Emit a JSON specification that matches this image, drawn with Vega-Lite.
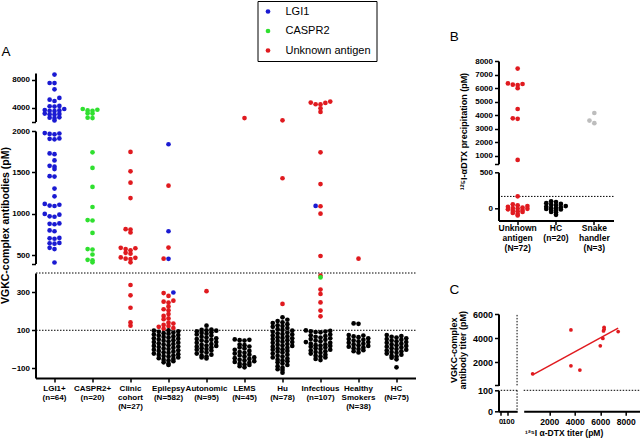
{
"$schema": "https://vega.github.io/schema/vega-lite/v6.json",
"padding": {"left": 0.5, "top": 0, "right": 0, "bottom": 0},
"background": "white",
"config": {
  "view": {"stroke": null},
  "font": "Liberation Sans",
  "axis": {"domainColor": "black", "domainWidth": 2, "tickColor": "black", "tickWidth": 1.5, "tickSize": 4, "labelColor": "black", "labelFont": "Liberation Sans", "labelFontWeight": "bold", "labelFontSize": 8, "labelPadding": 2, "titleFont": "Liberation Sans", "titleFontWeight": "bold", "titleColor": "black", "grid": false, "labelOverlap": false, "labelFlush": false},
  "legend": {"strokeColor": "black", "fillColor": "white", "padding": 5, "labelFontSize": 11, "labelFont": "Liberation Sans", "labelColor": "black", "symbolSize": 22, "symbolType": "circle", "rowPadding": 7.5, "labelOffset": 12},
  "title": {"font": "Liberation Sans", "fontSize": 13.5, "fontWeight": "normal", "anchor": "start", "color": "black", "offset": 14}
},
"datasets": {
  "a": [
    {"g":"LGI1+","c":"LGI1","v":8770},{"g":"LGI1+","c":"LGI1","v":7560},{"g":"LGI1+","c":"LGI1","v":7540},{"g":"LGI1+","c":"LGI1","v":6650},{"g":"LGI1+","c":"LGI1","v":5400},{"g":"LGI1+","c":"LGI1","v":5150},{"g":"LGI1+","c":"LGI1","v":4960},{"g":"LGI1+","c":"LGI1","v":4250},{"g":"LGI1+","c":"LGI1","v":4200},{"g":"LGI1+","c":"LGI1","v":4150},{"g":"LGI1+","c":"LGI1","v":3800},{"g":"LGI1+","c":"LGI1","v":3650},{"g":"LGI1+","c":"LGI1","v":3600},{"g":"LGI1+","c":"LGI1","v":3550},{"g":"LGI1+","c":"LGI1","v":3500},{"g":"LGI1+","c":"LGI1","v":3150},{"g":"LGI1+","c":"LGI1","v":3100},{"g":"LGI1+","c":"LGI1","v":3050},{"g":"LGI1+","c":"LGI1","v":3000},{"g":"LGI1+","c":"LGI1","v":2600},{"g":"LGI1+","c":"LGI1","v":2550},{"g":"LGI1+","c":"LGI1","v":2500},{"g":"LGI1+","c":"LGI1","v":2150},
    {"g":"LGI1+","c":"LGI1","v":1975},{"g":"LGI1+","c":"LGI1","v":1970},{"g":"LGI1+","c":"LGI1","v":1965},{"g":"LGI1+","c":"LGI1","v":1960},{"g":"LGI1+","c":"LGI1","v":1910},{"g":"LGI1+","c":"LGI1","v":1905},{"g":"LGI1+","c":"LGI1","v":1900},{"g":"LGI1+","c":"LGI1","v":1730},{"g":"LGI1+","c":"LGI1","v":1720},{"g":"LGI1+","c":"LGI1","v":1645},{"g":"LGI1+","c":"LGI1","v":1580},{"g":"LGI1+","c":"LGI1","v":1570},{"g":"LGI1+","c":"LGI1","v":1540},{"g":"LGI1+","c":"LGI1","v":1455},{"g":"LGI1+","c":"LGI1","v":1450},{"g":"LGI1+","c":"LGI1","v":1305},{"g":"LGI1+","c":"LGI1","v":1212},{"g":"LGI1+","c":"LGI1","v":1120},{"g":"LGI1+","c":"LGI1","v":1110},{"g":"LGI1+","c":"LGI1","v":1100},{"g":"LGI1+","c":"LGI1","v":1095},{"g":"LGI1+","c":"LGI1","v":1000},{"g":"LGI1+","c":"LGI1","v":990},{"g":"LGI1+","c":"LGI1","v":970},{"g":"LGI1+","c":"LGI1","v":965},{"g":"LGI1+","c":"LGI1","v":885},{"g":"LGI1+","c":"LGI1","v":880},{"g":"LGI1+","c":"LGI1","v":875},{"g":"LGI1+","c":"LGI1","v":800},{"g":"LGI1+","c":"LGI1","v":790},{"g":"LGI1+","c":"LGI1","v":710},{"g":"LGI1+","c":"LGI1","v":705},{"g":"LGI1+","c":"LGI1","v":700},{"g":"LGI1+","c":"LGI1","v":650},{"g":"LGI1+","c":"LGI1","v":645},{"g":"LGI1+","c":"LGI1","v":640},{"g":"LGI1+","c":"LGI1","v":590},{"g":"LGI1+","c":"LGI1","v":575},{"g":"LGI1+","c":"LGI1","v":413},
    {"g":"CASPR2+","c":"CASPR2","v":3800},{"g":"CASPR2+","c":"CASPR2","v":3700},{"g":"CASPR2+","c":"CASPR2","v":3600},{"g":"CASPR2+","c":"CASPR2","v":3550},{"g":"CASPR2+","c":"CASPR2","v":3200},{"g":"CASPR2+","c":"CASPR2","v":3150},{"g":"CASPR2+","c":"CASPR2","v":2550},{"g":"CASPR2+","c":"CASPR2","v":2500},{"g":"CASPR2+","c":"CASPR2","v":1743},{"g":"CASPR2+","c":"CASPR2","v":1555},{"g":"CASPR2+","c":"CASPR2","v":1325},{"g":"CASPR2+","c":"CASPR2","v":1083},{"g":"CASPR2+","c":"CASPR2","v":925},{"g":"CASPR2+","c":"CASPR2","v":920},{"g":"CASPR2+","c":"CASPR2","v":770},{"g":"CASPR2+","c":"CASPR2","v":575},{"g":"CASPR2+","c":"CASPR2","v":570},{"g":"CASPR2+","c":"CASPR2","v":510},{"g":"CASPR2+","c":"CASPR2","v":445},{"g":"CASPR2+","c":"CASPR2","v":440},{"g":"CASPR2+","c":"CASPR2","v":415},
    {"g":"Clinic","c":"Unknown antigen","v":1747},{"g":"Clinic","c":"Unknown antigen","v":1513},{"g":"Clinic","c":"Unknown antigen","v":1377},{"g":"Clinic","c":"Unknown antigen","v":1191},{"g":"Clinic","c":"Unknown antigen","v":815},{"g":"Clinic","c":"Unknown antigen","v":810},{"g":"Clinic","c":"Unknown antigen","v":775},{"g":"Clinic","c":"Unknown antigen","v":590},{"g":"Clinic","c":"Unknown antigen","v":585},{"g":"Clinic","c":"Unknown antigen","v":575},{"g":"Clinic","c":"Unknown antigen","v":560},{"g":"Clinic","c":"Unknown antigen","v":530},{"g":"Clinic","c":"Unknown antigen","v":520},{"g":"Clinic","c":"Unknown antigen","v":475},{"g":"Clinic","c":"Unknown antigen","v":470},{"g":"Clinic","c":"Unknown antigen","v":460},{"g":"Clinic","c":"Unknown antigen","v":455},{"g":"Clinic","c":"Unknown antigen","v":415},{"g":"Clinic","c":"Unknown antigen","v":337},{"g":"Clinic","c":"Unknown antigen","v":283},{"g":"Clinic","c":"Unknown antigen","v":218},{"g":"Clinic","c":"Unknown antigen","v":141},{"g":"Clinic","c":"Unknown antigen","v":124},
    {"g":"Epilepsy","c":"LGI1","v":1840},{"g":"Epilepsy","c":"LGI1","v":790},{"g":"Epilepsy","c":"LGI1","v":458},{"g":"Epilepsy","c":"LGI1","v":298},
    {"g":"Epilepsy","c":"Unknown antigen","v":1340},{"g":"Epilepsy","c":"Unknown antigen","v":593},{"g":"Epilepsy","c":"Unknown antigen","v":460},{"g":"Epilepsy","c":"Unknown antigen","v":295},{"g":"Epilepsy","c":"Unknown antigen","v":280},{"g":"Epilepsy","c":"Unknown antigen","v":255},{"g":"Epilepsy","c":"Unknown antigen","v":250},{"g":"Epilepsy","c":"Unknown antigen","v":245},{"g":"Epilepsy","c":"Unknown antigen","v":225},{"g":"Epilepsy","c":"Unknown antigen","v":210},{"g":"Epilepsy","c":"Unknown antigen","v":205},{"g":"Epilepsy","c":"Unknown antigen","v":185},{"g":"Epilepsy","c":"Unknown antigen","v":175},{"g":"Epilepsy","c":"Unknown antigen","v":162},{"g":"Epilepsy","c":"Unknown antigen","v":158},{"g":"Epilepsy","c":"Unknown antigen","v":140},{"g":"Epilepsy","c":"Unknown antigen","v":135},{"g":"Epilepsy","c":"Unknown antigen","v":128},{"g":"Epilepsy","c":"Unknown antigen","v":122},{"g":"Epilepsy","c":"Unknown antigen","v":118},{"g":"Epilepsy","c":"Unknown antigen","v":112},{"g":"Epilepsy","c":"Unknown antigen","v":108},
    {"g":"Epilepsy","c":"Negative","v":100},{"g":"Epilepsy","c":"Negative","v":98},{"g":"Epilepsy","c":"Negative","v":95},{"g":"Epilepsy","c":"Negative","v":92},{"g":"Epilepsy","c":"Negative","v":88},{"g":"Epilepsy","c":"Negative","v":85},{"g":"Epilepsy","c":"Negative","v":82},{"g":"Epilepsy","c":"Negative","v":78},{"g":"Epilepsy","c":"Negative","v":75},{"g":"Epilepsy","c":"Negative","v":72},{"g":"Epilepsy","c":"Negative","v":68},{"g":"Epilepsy","c":"Negative","v":65},{"g":"Epilepsy","c":"Negative","v":62},{"g":"Epilepsy","c":"Negative","v":58},{"g":"Epilepsy","c":"Negative","v":55},{"g":"Epilepsy","c":"Negative","v":52},{"g":"Epilepsy","c":"Negative","v":48},{"g":"Epilepsy","c":"Negative","v":45},{"g":"Epilepsy","c":"Negative","v":42},{"g":"Epilepsy","c":"Negative","v":38},{"g":"Epilepsy","c":"Negative","v":35},{"g":"Epilepsy","c":"Negative","v":32},{"g":"Epilepsy","c":"Negative","v":28},{"g":"Epilepsy","c":"Negative","v":25},{"g":"Epilepsy","c":"Negative","v":22},{"g":"Epilepsy","c":"Negative","v":18},{"g":"Epilepsy","c":"Negative","v":15},{"g":"Epilepsy","c":"Negative","v":12},{"g":"Epilepsy","c":"Negative","v":8},{"g":"Epilepsy","c":"Negative","v":5},{"g":"Epilepsy","c":"Negative","v":2},{"g":"Epilepsy","c":"Negative","v":-2},{"g":"Epilepsy","c":"Negative","v":-5},{"g":"Epilepsy","c":"Negative","v":-8},{"g":"Epilepsy","c":"Negative","v":-12},{"g":"Epilepsy","c":"Negative","v":-15},{"g":"Epilepsy","c":"Negative","v":-18},{"g":"Epilepsy","c":"Negative","v":-22},{"g":"Epilepsy","c":"Negative","v":-25},{"g":"Epilepsy","c":"Negative","v":-28},{"g":"Epilepsy","c":"Negative","v":-32},{"g":"Epilepsy","c":"Negative","v":-35},{"g":"Epilepsy","c":"Negative","v":-38},{"g":"Epilepsy","c":"Negative","v":-42},{"g":"Epilepsy","c":"Negative","v":-46},{"g":"Epilepsy","c":"Negative","v":-50},{"g":"Epilepsy","c":"Negative","v":-55},{"g":"Epilepsy","c":"Negative","v":-58},{"g":"Epilepsy","c":"Negative","v":-62},{"g":"Epilepsy","c":"Negative","v":-68},{"g":"Epilepsy","c":"Negative","v":-75},{"g":"Epilepsy","c":"Negative","v":-82},
    {"g":"Autonomic","c":"Unknown antigen","v":305},
    {"g":"Autonomic","c":"Negative","v":124},{"g":"Autonomic","c":"Negative","v":104},{"g":"Autonomic","c":"Negative","v":102},{"g":"Autonomic","c":"Negative","v":100},{"g":"Autonomic","c":"Negative","v":98},{"g":"Autonomic","c":"Negative","v":95},{"g":"Autonomic","c":"Negative","v":90},{"g":"Autonomic","c":"Negative","v":86},{"g":"Autonomic","c":"Negative","v":82},{"g":"Autonomic","c":"Negative","v":78},{"g":"Autonomic","c":"Negative","v":72},{"g":"Autonomic","c":"Negative","v":66},{"g":"Autonomic","c":"Negative","v":62},{"g":"Autonomic","c":"Negative","v":58},{"g":"Autonomic","c":"Negative","v":54},{"g":"Autonomic","c":"Negative","v":50},{"g":"Autonomic","c":"Negative","v":46},{"g":"Autonomic","c":"Negative","v":42},{"g":"Autonomic","c":"Negative","v":38},{"g":"Autonomic","c":"Negative","v":34},{"g":"Autonomic","c":"Negative","v":28},{"g":"Autonomic","c":"Negative","v":24},{"g":"Autonomic","c":"Negative","v":20},{"g":"Autonomic","c":"Negative","v":18},{"g":"Autonomic","c":"Negative","v":14},{"g":"Autonomic","c":"Negative","v":10},{"g":"Autonomic","c":"Negative","v":6},{"g":"Autonomic","c":"Negative","v":2},{"g":"Autonomic","c":"Negative","v":-2},{"g":"Autonomic","c":"Negative","v":-6},{"g":"Autonomic","c":"Negative","v":-12},{"g":"Autonomic","c":"Negative","v":-16},{"g":"Autonomic","c":"Negative","v":-22},{"g":"Autonomic","c":"Negative","v":-28},{"g":"Autonomic","c":"Negative","v":-34},{"g":"Autonomic","c":"Negative","v":-38},{"g":"Autonomic","c":"Negative","v":-42},{"g":"Autonomic","c":"Negative","v":-48},
    {"g":"LEMS","c":"Unknown antigen","v":2500},
    {"g":"LEMS","c":"Negative","v":52},{"g":"LEMS","c":"Negative","v":50},{"g":"LEMS","c":"Negative","v":48},{"g":"LEMS","c":"Negative","v":46},{"g":"LEMS","c":"Negative","v":25},{"g":"LEMS","c":"Negative","v":22},{"g":"LEMS","c":"Negative","v":15},{"g":"LEMS","c":"Negative","v":10},{"g":"LEMS","c":"Negative","v":5},{"g":"LEMS","c":"Negative","v":-2},{"g":"LEMS","c":"Negative","v":-8},{"g":"LEMS","c":"Negative","v":-14},{"g":"LEMS","c":"Negative","v":-18},{"g":"LEMS","c":"Negative","v":-22},{"g":"LEMS","c":"Negative","v":-28},{"g":"LEMS","c":"Negative","v":-32},{"g":"LEMS","c":"Negative","v":-38},{"g":"LEMS","c":"Negative","v":-42},{"g":"LEMS","c":"Negative","v":-46},{"g":"LEMS","c":"Negative","v":-50},{"g":"LEMS","c":"Negative","v":-55},{"g":"LEMS","c":"Negative","v":-58},{"g":"LEMS","c":"Negative","v":-62},{"g":"LEMS","c":"Negative","v":-66},{"g":"LEMS","c":"Negative","v":-70},{"g":"LEMS","c":"Negative","v":-75},{"g":"LEMS","c":"Negative","v":-78},{"g":"LEMS","c":"Negative","v":-82},{"g":"LEMS","c":"Negative","v":-88},{"g":"LEMS","c":"Negative","v":-94},
    {"g":"Hu","c":"Unknown antigen","v":2170},{"g":"Hu","c":"Unknown antigen","v":1430},{"g":"Hu","c":"Unknown antigen","v":238},
    {"g":"Hu","c":"Negative","v":168},{"g":"Hu","c":"Negative","v":155},{"g":"Hu","c":"Negative","v":148},{"g":"Hu","c":"Negative","v":142},{"g":"Hu","c":"Negative","v":138},{"g":"Hu","c":"Negative","v":132},{"g":"Hu","c":"Negative","v":126},{"g":"Hu","c":"Negative","v":122},{"g":"Hu","c":"Negative","v":118},{"g":"Hu","c":"Negative","v":112},{"g":"Hu","c":"Negative","v":106},{"g":"Hu","c":"Negative","v":102},{"g":"Hu","c":"Negative","v":98},{"g":"Hu","c":"Negative","v":92},{"g":"Hu","c":"Negative","v":88},{"g":"Hu","c":"Negative","v":84},{"g":"Hu","c":"Negative","v":80},{"g":"Hu","c":"Negative","v":78},{"g":"Hu","c":"Negative","v":72},{"g":"Hu","c":"Negative","v":68},{"g":"Hu","c":"Negative","v":64},{"g":"Hu","c":"Negative","v":60},{"g":"Hu","c":"Negative","v":58},{"g":"Hu","c":"Negative","v":54},{"g":"Hu","c":"Negative","v":48},{"g":"Hu","c":"Negative","v":44},{"g":"Hu","c":"Negative","v":40},{"g":"Hu","c":"Negative","v":38},{"g":"Hu","c":"Negative","v":34},{"g":"Hu","c":"Negative","v":28},{"g":"Hu","c":"Negative","v":24},{"g":"Hu","c":"Negative","v":20},{"g":"Hu","c":"Negative","v":18},{"g":"Hu","c":"Negative","v":14},{"g":"Hu","c":"Negative","v":8},{"g":"Hu","c":"Negative","v":4},{"g":"Hu","c":"Negative","v":0},{"g":"Hu","c":"Negative","v":-2},{"g":"Hu","c":"Negative","v":-8},{"g":"Hu","c":"Negative","v":-12},{"g":"Hu","c":"Negative","v":-16},{"g":"Hu","c":"Negative","v":-22},{"g":"Hu","c":"Negative","v":-28},{"g":"Hu","c":"Negative","v":-34},{"g":"Hu","c":"Negative","v":-38},{"g":"Hu","c":"Negative","v":-42},{"g":"Hu","c":"Negative","v":-48},{"g":"Hu","c":"Negative","v":-54},{"g":"Hu","c":"Negative","v":-58},{"g":"Hu","c":"Negative","v":-62},{"g":"Hu","c":"Negative","v":-68},{"g":"Hu","c":"Negative","v":-74},{"g":"Hu","c":"Negative","v":-82},{"g":"Hu","c":"Negative","v":-88},{"g":"Hu","c":"Negative","v":-96},{"g":"Hu","c":"Negative","v":-104},{"g":"Hu","c":"Negative","v":-108},{"g":"Hu","c":"Negative","v":-122},
    {"g":"Infectious","c":"Unknown antigen","v":4870},{"g":"Infectious","c":"Unknown antigen","v":4725},{"g":"Infectious","c":"Unknown antigen","v":4680},{"g":"Infectious","c":"Unknown antigen","v":4490},{"g":"Infectious","c":"Unknown antigen","v":4460},{"g":"Infectious","c":"Unknown antigen","v":3910},{"g":"Infectious","c":"Unknown antigen","v":3380},{"g":"Infectious","c":"Unknown antigen","v":1743},{"g":"Infectious","c":"Unknown antigen","v":1360},{"g":"Infectious","c":"Unknown antigen","v":1092},{"g":"Infectious","c":"Unknown antigen","v":1003},{"g":"Infectious","c":"Unknown antigen","v":492},{"g":"Infectious","c":"Unknown antigen","v":386},{"g":"Infectious","c":"Unknown antigen","v":313},{"g":"Infectious","c":"Unknown antigen","v":290},{"g":"Infectious","c":"Unknown antigen","v":246},{"g":"Infectious","c":"Unknown antigen","v":203},{"g":"Infectious","c":"Unknown antigen","v":173},
    {"g":"Infectious","c":"LGI1","v":1096},{"g":"Infectious","c":"CASPR2","v":377},
    {"g":"Infectious","c":"Negative","v":99},{"g":"Infectious","c":"Negative","v":97},{"g":"Infectious","c":"Negative","v":95},{"g":"Infectious","c":"Negative","v":93},{"g":"Infectious","c":"Negative","v":91},{"g":"Infectious","c":"Negative","v":89},{"g":"Infectious","c":"Negative","v":78},{"g":"Infectious","c":"Negative","v":74},{"g":"Infectious","c":"Negative","v":70},{"g":"Infectious","c":"Negative","v":66},{"g":"Infectious","c":"Negative","v":62},{"g":"Infectious","c":"Negative","v":58},{"g":"Infectious","c":"Negative","v":54},{"g":"Infectious","c":"Negative","v":50},{"g":"Infectious","c":"Negative","v":46},{"g":"Infectious","c":"Negative","v":42},{"g":"Infectious","c":"Negative","v":38},{"g":"Infectious","c":"Negative","v":34},{"g":"Infectious","c":"Negative","v":30},{"g":"Infectious","c":"Negative","v":26},{"g":"Infectious","c":"Negative","v":22},{"g":"Infectious","c":"Negative","v":20},{"g":"Infectious","c":"Negative","v":18},{"g":"Infectious","c":"Negative","v":14},{"g":"Infectious","c":"Negative","v":10},{"g":"Infectious","c":"Negative","v":6},{"g":"Infectious","c":"Negative","v":2},{"g":"Infectious","c":"Negative","v":-2},{"g":"Infectious","c":"Negative","v":-6},{"g":"Infectious","c":"Negative","v":-10},{"g":"Infectious","c":"Negative","v":-14},{"g":"Infectious","c":"Negative","v":-18},{"g":"Infectious","c":"Negative","v":-22},{"g":"Infectious","c":"Negative","v":-28},{"g":"Infectious","c":"Negative","v":-34},{"g":"Infectious","c":"Negative","v":-38},{"g":"Infectious","c":"Negative","v":-42},{"g":"Infectious","c":"Negative","v":-50},{"g":"Infectious","c":"Negative","v":-56},
    {"g":"Smokers","c":"Unknown antigen","v":460},
    {"g":"Smokers","c":"Negative","v":136},{"g":"Smokers","c":"Negative","v":134},{"g":"Smokers","c":"Negative","v":75},{"g":"Smokers","c":"Negative","v":72},{"g":"Smokers","c":"Negative","v":68},{"g":"Smokers","c":"Negative","v":64},{"g":"Smokers","c":"Negative","v":58},{"g":"Smokers","c":"Negative","v":54},{"g":"Smokers","c":"Negative","v":50},{"g":"Smokers","c":"Negative","v":46},{"g":"Smokers","c":"Negative","v":42},{"g":"Smokers","c":"Negative","v":38},{"g":"Smokers","c":"Negative","v":34},{"g":"Smokers","c":"Negative","v":30},{"g":"Smokers","c":"Negative","v":26},{"g":"Smokers","c":"Negative","v":22},{"g":"Smokers","c":"Negative","v":18},{"g":"Smokers","c":"Negative","v":14},{"g":"Smokers","c":"Negative","v":10},{"g":"Smokers","c":"Negative","v":6},{"g":"Smokers","c":"Negative","v":2},{"g":"Smokers","c":"Negative","v":-4},{"g":"Smokers","c":"Negative","v":-10},{"g":"Smokers","c":"Negative","v":-16},
    {"g":"HC","c":"Negative","v":75},{"g":"HC","c":"Negative","v":70},{"g":"HC","c":"Negative","v":66},{"g":"HC","c":"Negative","v":62},{"g":"HC","c":"Negative","v":58},{"g":"HC","c":"Negative","v":54},{"g":"HC","c":"Negative","v":50},{"g":"HC","c":"Negative","v":46},{"g":"HC","c":"Negative","v":42},{"g":"HC","c":"Negative","v":38},{"g":"HC","c":"Negative","v":34},{"g":"HC","c":"Negative","v":30},{"g":"HC","c":"Negative","v":26},{"g":"HC","c":"Negative","v":22},{"g":"HC","c":"Negative","v":18},{"g":"HC","c":"Negative","v":14},{"g":"HC","c":"Negative","v":10},{"g":"HC","c":"Negative","v":6},{"g":"HC","c":"Negative","v":2},{"g":"HC","c":"Negative","v":-2},{"g":"HC","c":"Negative","v":-6},{"g":"HC","c":"Negative","v":-10},{"g":"HC","c":"Negative","v":-14},{"g":"HC","c":"Negative","v":-18},{"g":"HC","c":"Negative","v":-22},{"g":"HC","c":"Negative","v":-28},{"g":"HC","c":"Negative","v":-34},{"g":"HC","c":"Negative","v":-38},{"g":"HC","c":"Negative","v":-44},{"g":"HC","c":"Negative","v":-52},{"g":"HC","c":"Negative","v":-94}
  ],
  "b": [
    {"g":"Unknown","c":"Unknown antigen","v":7440},{"g":"Unknown","c":"Unknown antigen","v":6340},{"g":"Unknown","c":"Unknown antigen","v":6300},{"g":"Unknown","c":"Unknown antigen","v":6250},{"g":"Unknown","c":"Unknown antigen","v":6220},{"g":"Unknown","c":"Unknown antigen","v":5990},{"g":"Unknown","c":"Unknown antigen","v":4450},{"g":"Unknown","c":"Unknown antigen","v":3760},{"g":"Unknown","c":"Unknown antigen","v":3720},{"g":"Unknown","c":"Unknown antigen","v":680},{"g":"Unknown","c":"Unknown antigen","v":169},{"g":"Unknown","c":"Unknown antigen","v":60},{"g":"Unknown","c":"Unknown antigen","v":45},{"g":"Unknown","c":"Unknown antigen","v":35},{"g":"Unknown","c":"Unknown antigen","v":25},{"g":"Unknown","c":"Unknown antigen","v":15},{"g":"Unknown","c":"Unknown antigen","v":8},{"g":"Unknown","c":"Unknown antigen","v":2},{"g":"Unknown","c":"Unknown antigen","v":-3},{"g":"Unknown","c":"Unknown antigen","v":-10},{"g":"Unknown","c":"Unknown antigen","v":-20},{"g":"Unknown","c":"Unknown antigen","v":-28},{"g":"Unknown","c":"Unknown antigen","v":-36},{"g":"Unknown","c":"Unknown antigen","v":-45},{"g":"Unknown","c":"Unknown antigen","v":-60},{"g":"Unknown","c":"Unknown antigen","v":-75},{"g":"Unknown","c":"Unknown antigen","v":-95},
    {"g":"HC","c":"Negative","v":100},{"g":"HC","c":"Negative","v":90},{"g":"HC","c":"Negative","v":75},{"g":"HC","c":"Negative","v":65},{"g":"HC","c":"Negative","v":55},{"g":"HC","c":"Negative","v":45},{"g":"HC","c":"Negative","v":35},{"g":"HC","c":"Negative","v":25},{"g":"HC","c":"Negative","v":18},{"g":"HC","c":"Negative","v":10},{"g":"HC","c":"Negative","v":4},{"g":"HC","c":"Negative","v":-5},{"g":"HC","c":"Negative","v":-12},{"g":"HC","c":"Negative","v":-20},{"g":"HC","c":"Negative","v":-30},{"g":"HC","c":"Negative","v":-45},{"g":"HC","c":"Negative","v":-55},{"g":"HC","c":"Negative","v":-85},
    {"g":"Snake","c":"Snake handler","v":4150},{"g":"Snake","c":"Snake handler","v":3590},{"g":"Snake","c":"Snake handler","v":3400}
  ],
  "c": [
    {"x":700,"y":1060},{"x":3700,"y":4680},{"x":3700,"y":1720},{"x":4400,"y":1370},{"x":6000,"y":3370},{"x":6200,"y":3980},{"x":6250,"y":4600},{"x":6300,"y":4900},{"x":6300,"y":4750},{"x":7400,"y":4550}
  ]
},
"resolve": {"scale": {"x": "independent", "y": "independent", "xOffset": "independent"}},
"spacing": 32,
"hconcat": [
  {
    "spacing": 9,
    "bounds": "flush",
    "resolve": {"scale": {"x": "independent", "y": "independent", "xOffset": "independent"}},
    "vconcat": [
      {
        "width": 380, "height": 2.3,
        "data": {"values": []},
        "mark": "point"
      },
      {
        "width": 380, "height": 48.5,
        "title": {"text": "A", "frame": "group", "dx": -34},
        "data": {"name": "a"},
        "transform": [
          {"filter": "datum.v >= 2000"},
          {"bin": {"step": 550, "anchor": 0}, "field": "v", "as": "vb"},
          {"window": [{"op": "row_number", "as": "r"}], "groupby": ["g", "vb"], "sort": [{"field": "v", "order": "ascending"}]}
        ],
        "mark": {"type": "circle", "size": 22, "opacity": 1},
        "encoding": {
          "x": {"field": "g", "type": "nominal", "sort": null, "scale": {"domain": ["LGI1+","CASPR2+","Clinic","Epilepsy","Autonomic","LEMS","Hu","Infectious","Smokers","HC"], "paddingInner": 0, "paddingOuter": 0}, "axis": null},
          "xOffset": {"field": "r", "type": "ordinal", "scale": {"domain": [12,10,8,6,4,2,1,3,5,7,9,11,13], "range": [-10.25, 48.25], "paddingInner": 0, "paddingOuter": 0}},
          "y": {"field": "v", "type": "quantitative", "scale": {"domain": [2000, 9000], "nice": false, "zero": false}, "axis": {"values": [2000, 4000, 8000], "format": "d", "labelExpr": "datum.value == 2000 ? '' : datum.label", "title": null}},
          "color": {"field": "c", "type": "nominal", "scale": {"domain": ["LGI1","CASPR2","Unknown antigen","Negative","Snake handler"], "range": ["#1a1ad2","#2fe02f","#e01a1f","#000000","#bdbdbd"]}, "legend": {"values": ["LGI1","CASPR2","Unknown antigen"], "title": null, "orient": "none", "legendX": 222, "legendY": -60}}
        }
      },
      {
        "width": 380, "height": 132.6,
        "data": {"name": "a"},
        "transform": [
          {"filter": "datum.v >= 400 && datum.v < 2000"},
          {"bin": {"step": 60, "anchor": 0}, "field": "v", "as": "vb"},
          {"window": [{"op": "row_number", "as": "r"}], "groupby": ["g", "vb"], "sort": [{"field": "v", "order": "ascending"}]}
        ],
        "mark": {"type": "circle", "size": 22, "opacity": 1},
        "encoding": {
          "x": {"field": "g", "type": "nominal", "sort": null, "scale": {"domain": ["LGI1+","CASPR2+","Clinic","Epilepsy","Autonomic","LEMS","Hu","Infectious","Smokers","HC"], "paddingInner": 0, "paddingOuter": 0}, "axis": null},
          "xOffset": {"field": "r", "type": "ordinal", "scale": {"domain": [12,10,8,6,4,2,1,3,5,7,9,11,13], "range": [-10.25, 48.25], "paddingInner": 0, "paddingOuter": 0}},
          "y": {"field": "v", "type": "quantitative", "scale": {"domain": [400, 2000], "nice": false, "zero": false}, "axis": {"values": [400, 500, 1000, 1500, 2000], "format": "d", "labelExpr": "datum.value == 400 ? '' : datum.label", "title": "VGKC-complex antibodies (pM)", "titleFontSize": 10.5, "titleY": 94, "titlePadding": 1}},
          "color": {"field": "c", "type": "nominal", "scale": {"domain": ["LGI1","CASPR2","Unknown antigen","Negative","Snake handler"], "range": ["#1a1ad2","#2fe02f","#e01a1f","#000000","#bdbdbd"]}, "legend": {"values": ["LGI1","CASPR2","Unknown antigen"], "title": null, "orient": "none", "legendX": 222, "legendY": -60}}
        }
      },
      {
        "width": 380, "height": 105,
        "layer": [
          {
            "data": {"values": [{"t": 100}, {"t": 400}]},
            "mark": {"type": "rule", "strokeDash": [1.5, 1.5], "strokeWidth": 1, "color": "black"},
            "encoding": {"y": {"field": "t", "type": "quantitative"}}
          },
          {
            "data": {"name": "a"},
            "transform": [
              {"filter": "datum.v < 400"},
              {"bin": {"step": 20, "anchor": 0}, "field": "v", "as": "vb"},
              {"window": [{"op": "row_number", "as": "r"}], "groupby": ["g", "vb"], "sort": [{"field": "v", "order": "ascending"}]}
            ],
            "mark": {"type": "circle", "size": 22, "opacity": 1},
            "encoding": {
              "x": {"field": "g", "type": "nominal", "sort": null, "scale": {"domain": ["LGI1+","CASPR2+","Clinic","Epilepsy","Autonomic","LEMS","Hu","Infectious","Smokers","HC"], "paddingInner": 0, "paddingOuter": 0}, "axis": {"title": null, "labelFontSize": 8, "labelLineHeight": 9, "labelAngle": 0, "labelExpr": "datum.value=='LGI1+'?['LGI1+','(n=64)']:datum.value=='CASPR2+'?['CASPR2+','(n=20)']:datum.value=='Clinic'?['Clinic','cohort','(N=27)']:datum.value=='Epilepsy'?['Epilepsy','(N=582)']:datum.value=='Autonomic'?['Autonomic','(N=95)']:datum.value=='LEMS'?['LEMS','(N=45)']:datum.value=='Hu'?['Hu','(N=78)']:datum.value=='Infectious'?['Infectious','(n=107)']:datum.value=='Smokers'?['Healthy','Smokers','(N=38)']:['HC','(N=75)']"}},
              "xOffset": {"field": "r", "type": "ordinal", "scale": {"domain": [12,10,8,6,4,2,1,3,5,7,9,11,13], "range": [-10.25, 48.25], "paddingInner": 0, "paddingOuter": 0}},
              "y": {"field": "v", "type": "quantitative", "scale": {"domain": [-150, 400], "nice": false, "zero": false}, "axis": {"values": [-100, 0, 100, 200, 300, 400], "format": "d", "title": null}},
              "color": {"field": "c", "type": "nominal", "scale": {"domain": ["LGI1","CASPR2","Unknown antigen","Negative","Snake handler"], "range": ["#1a1ad2","#2fe02f","#e01a1f","#000000","#bdbdbd"]}, "legend": {"values": ["LGI1","CASPR2","Unknown antigen"], "title": null, "orient": "none", "legendX": 222, "legendY": -60}}
            }
          }
        ]
      }
    ]
  },
  {
    "spacing": 29,
    "resolve": {"scale": {"x": "independent", "y": "independent", "xOffset": "independent"}},
    "vconcat": [
      {
        "title": {"text": "B", "dx": -10},
        "spacing": 8.3,
        "bounds": "flush",
        "resolve": {"scale": {"x": "independent", "y": "independent", "xOffset": "independent"}},
        "vconcat": [
          {
            "width": 115, "height": 102.7,
            "data": {"name": "b"},
            "transform": [
              {"filter": "datum.v > 500"},
              {"bin": {"step": 400, "anchor": 0}, "field": "v", "as": "vb"},
              {"window": [{"op": "row_number", "as": "r"}], "groupby": ["g", "vb"], "sort": [{"field": "v", "order": "ascending"}]}
            ],
            "mark": {"type": "circle", "size": 22, "opacity": 1},
            "encoding": {
              "x": {"field": "g", "type": "nominal", "sort": null, "scale": {"domain": ["Unknown","HC","Snake"], "paddingInner": 0, "paddingOuter": 0}, "axis": null},
              "xOffset": {"field": "r", "type": "ordinal", "scale": {"domain": [12,10,8,6,4,2,1,3,5,7,9,11,13], "range": [-10.08, 48.42], "paddingInner": 0, "paddingOuter": 0}},
              "y": {"field": "v", "type": "quantitative", "scale": {"domain": [400, 8000], "nice": false, "zero": false}, "axis": {"values": [400, 1000, 2000, 3000, 4000, 5000, 6000, 7000, 8000], "format": "d", "labelExpr": "datum.value == 400 ? '' : datum.label", "title": "¹²⁵I-αDTX precipitation (pM)", "titleFontSize": 9, "titleY": 70, "titlePadding": 6}},
              "color": {"field": "c", "type": "nominal", "scale": {"domain": ["LGI1","CASPR2","Unknown antigen","Negative","Snake handler"], "range": ["#1a1ad2","#2fe02f","#e01a1f","#000000","#bdbdbd"]}, "legend": {"values": ["LGI1","CASPR2","Unknown antigen"], "title": null, "orient": "none", "legendX": 222, "legendY": -60}}
            }
          },
          {
            "width": 115, "height": 48.3,
            "layer": [
              {
                "data": {"values": [{"t": 168}]},
                "mark": {"type": "rule", "strokeDash": [1.5, 1.5], "strokeWidth": 1, "color": "black"},
                "encoding": {"y": {"field": "t", "type": "quantitative"}}
              },
              {
                "data": {"name": "b"},
                "transform": [
                  {"filter": "datum.v <= 500"},
                  {"bin": {"step": 40, "anchor": 0}, "field": "v", "as": "vb"},
                  {"window": [{"op": "row_number", "as": "r"}], "groupby": ["g", "vb"], "sort": [{"field": "v", "order": "ascending"}]}
                ],
                "mark": {"type": "circle", "size": 22, "opacity": 1},
                "encoding": {
                  "x": {"field": "g", "type": "nominal", "sort": null, "scale": {"domain": ["Unknown","HC","Snake"], "paddingInner": 0, "paddingOuter": 0}, "axis": {"title": null, "labelFontSize": 8.5, "labelLineHeight": 10, "labelPadding": -1, "labelAngle": 0, "labelExpr": "datum.value=='Unknown'?['Unknown','antigen','(N=72)']:datum.value=='HC'?['HC','(n=20)']:['Snake','handler','(N=3)']"}},
                  "xOffset": {"field": "r", "type": "ordinal", "scale": {"domain": [12,10,8,6,4,2,1,3,5,7,9,11,13], "range": [-10.08, 48.42], "paddingInner": 0, "paddingOuter": 0}},
                  "y": {"field": "v", "type": "quantitative", "scale": {"domain": [-165, 500], "nice": false, "zero": false}, "axis": {"values": [0, 250, 500], "format": "d", "title": null}},
                  "color": {"field": "c", "type": "nominal", "scale": {"domain": ["LGI1","CASPR2","Unknown antigen","Negative","Snake handler"], "range": ["#1a1ad2","#2fe02f","#e01a1f","#000000","#bdbdbd"]}, "legend": {"values": ["LGI1","CASPR2","Unknown antigen"], "title": null, "orient": "none", "legendX": 222, "legendY": -60}}
                }
              }
            ]
          }
        ]
      },
      {
        "title": {"text": "C"},
        "columns": 2,
        "bounds": "flush",
        "spacing": {"row": 4.3, "column": 6.2},
        "resolve": {"scale": {"x": "independent", "y": "independent"}},
        "concat": [
          {
            "width": 18.7, "height": 71.4,
            "data": {"values": [{}]},
            "mark": {"type": "rule", "strokeDash": [1.5, 1.5], "strokeWidth": 1, "color": "black"},
            "encoding": {
              "x": {"datum": 224, "type": "quantitative", "scale": {"domain": [-27, 226], "nice": false, "zero": false}, "axis": null},
              "y": {"datum": 100, "type": "quantitative", "scale": {"domain": [100, 6000], "nice": false, "zero": false}, "axis": {"values": [100, 2000, 4000, 6000], "format": "d", "labelExpr": "datum.value == 100 ? '' : datum.label", "labelFontSize": 9, "title": ["VGKC-complex", "antibody titer (pM)"], "titleFontSize": 9, "titlePadding": 5, "titleLineHeight": 9}},
              "y2": {"datum": 6000}
            }
          },
          {
            "width": 116.8, "height": 71.4,
            "data": {"name": "c"},
            "layer": [
              {
                "mark": {"type": "circle", "size": 14, "opacity": 1, "color": "#e01a1f"},
                "encoding": {
                  "x": {"field": "x", "type": "quantitative", "scale": {"domain": [0, 9150], "nice": false, "zero": false}, "axis": null},
                  "y": {"field": "y", "type": "quantitative", "scale": {"domain": [100, 6000], "nice": false, "zero": false}, "axis": null}
                }
              },
              {
                "transform": [{"regression": "y", "on": "x"}],
                "mark": {"type": "line", "color": "#e01a1f", "strokeWidth": 1.5},
                "encoding": {
                  "x": {"field": "x", "type": "quantitative"},
                  "y": {"field": "y", "type": "quantitative"}
                }
              }
            ]
          },
          {
            "width": 18.7, "height": 21,
            "data": {"values": [{}]},
            "layer": [
              {
                "mark": {"type": "rule", "strokeDash": [1.5, 1.5], "strokeWidth": 1, "color": "black"},
                "encoding": {
                  "y": {"datum": 100, "type": "quantitative", "scale": {"domain": [0, 100], "nice": false, "zero": false}, "axis": {"values": [0, 100], "format": "d", "labelFontSize": 9, "title": null}}
                }
              },
              {
                "mark": {"type": "rule", "strokeDash": [1.5, 1.5], "strokeWidth": 1, "color": "black"},
                "encoding": {
                  "x": {"datum": 224, "type": "quantitative", "scale": {"domain": [-27, 226], "nice": false, "zero": false}, "axis": {"values": [0, 100], "format": "d", "labelFontSize": 7.5, "title": null}}
                }
              }
            ]
          },
          {
            "width": 116.8, "height": 21,
            "data": {"values": [{}]},
            "mark": {"type": "rule", "strokeDash": [1.5, 1.5], "strokeWidth": 1, "color": "black"},
            "encoding": {
              "x": {"datum": 0, "type": "quantitative", "scale": {"domain": [0, 9150], "nice": false, "zero": false}, "axis": {"values": [2000, 4000, 6000, 8000], "format": "d", "labelFontSize": 8.5, "title": "¹²⁵I α-DTX titer (pM)", "titleFontSize": 8.5, "titleX": 40, "titlePadding": 3}},
              "x2": {"datum": 9150},
              "y": {"datum": 100, "type": "quantitative", "scale": {"domain": [0, 100], "nice": false, "zero": false}, "axis": null}
            }
          }
        ]
      }
    ]
  }
]
}
